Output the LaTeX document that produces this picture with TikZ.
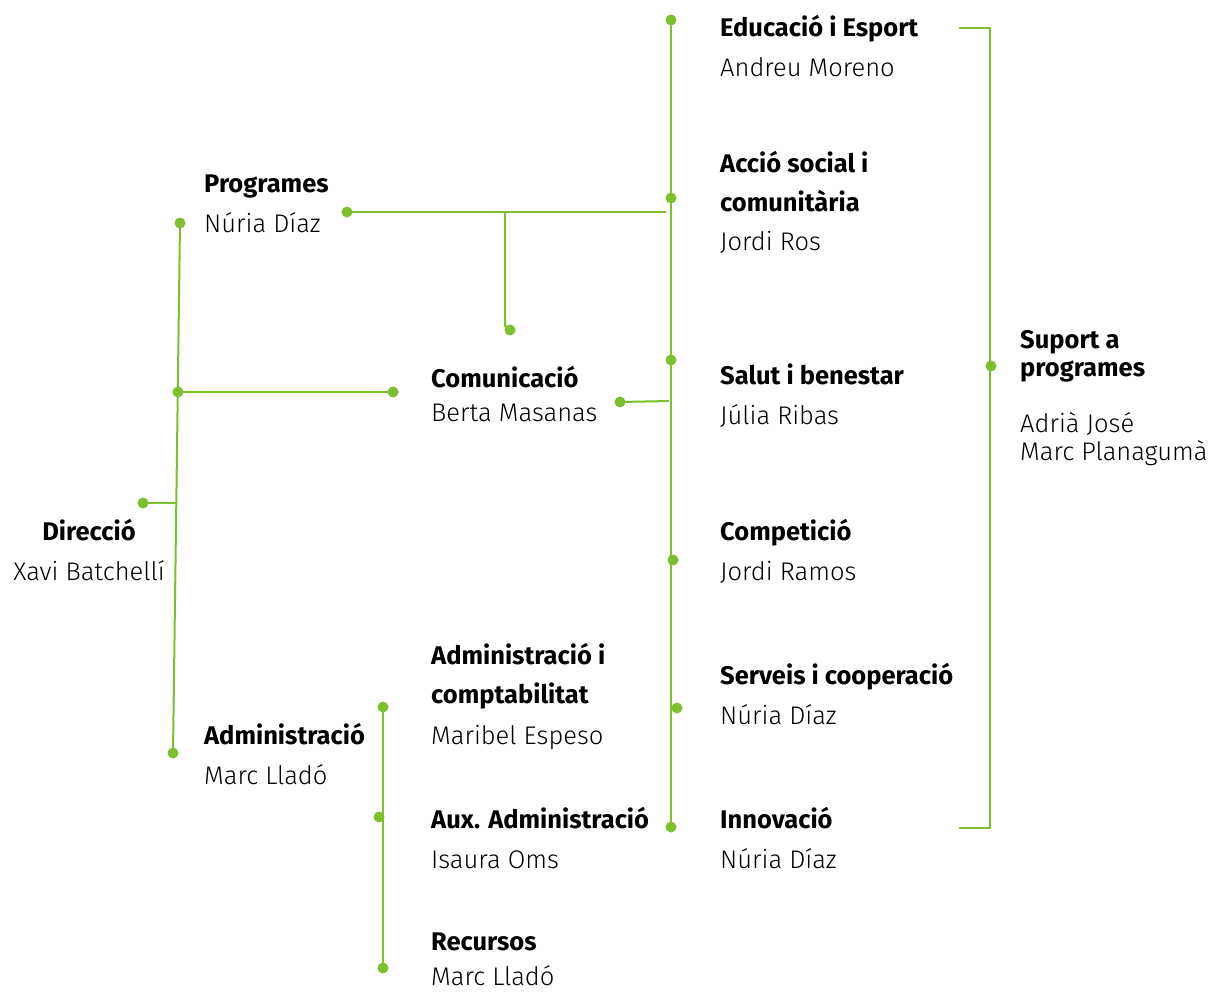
\documentclass[tikz,border=0pt]{standalone}
\usepackage{fontspec}
\setmainfont{Fira Sans}
\IfFontExistsTF{Fira Sans Light}
  {\newfontfamily\lightfont{Fira Sans Light}}
  {\newfontfamily\lightfont{Fira Sans}}
\definecolor{leaf}{RGB}{125,192,46}

\tikzset{
  dot/.style={circle,fill=leaf,inner sep=0pt,minimum size=11pt},
  link/.style={draw=leaf,line width=2pt},
  unit/.style={font=\fontsize{25.5}{30}\selectfont\bfseries,anchor=base west,inner sep=0pt},
  who/.style={font=\lightfont\fontsize{25.5}{30}\selectfont,anchor=base west,inner sep=0pt},
}

\begin{document}
\begin{tikzpicture}[x=1pt,y=-1pt]
	\useasboundingbox (0,0) rectangle (1218,991);

	% left spine
	\node[dot] (dProg) at (180,223) {};
	\node[dot] (dCom)  at (178,392) {};
	\node[dot] (dAdm)  at (173,753) {};
	\node[dot] (dDir)  at (143,503) {};
	\node[dot] (dComR) at (393,392) {};
	\coordinate (jDir) at (177,503);
	\draw[link] (dProg.center) -- (dAdm.center);
	\draw[link] (dCom.center) -- (dComR.center);
	\draw[link] (dDir.center) -- (jDir);

	% programes branch
	\node[dot] (dProgR) at (347,212) {};
	\coordinate (jProg) at (666,212);
	\coordinate (jMid) at (505,212);
	\node[dot] (dMid) at (510,330) {};
	\draw[link] (dProgR.center) -- (jProg);
	\draw[link] (jMid) -- (505,326) -- (dMid.center);
	\node[dot] (dComL) at (620,402) {};
	\coordinate (jCom) at (669,401);
	\draw[link] (dComL.center) -- (jCom);

	% right spine
	\node[dot] (dEdu) at (671,20) {};
	\node[dot] (dAcc) at (671,198) {};
	\node[dot] (dSal) at (671,360) {};
	\node[dot] (dCmp) at (673,560) {};
	\node[dot] (dSer) at (677,708) {};
	\node[dot] (dInn) at (671,827) {};
	\draw[link] (dEdu.center) -- (dInn.center);

	% bracket
	\coordinate (bTop) at (959,28);
	\coordinate (bBot) at (959,828);
	\node[dot] (dSup) at (991,366) {};
	\draw[link] (bTop) -- (990,28) -- (990,828) -- (bBot);

	% administracio branch
	\node[dot] (dAd1) at (383,707) {};
	\node[dot] (dAd2) at (379,817) {};
	\node[dot] (dAd3) at (383,968) {};
	\draw[link] (dAd1.center) -- (dAd3.center);

	% texts
	\node[unit,anchor=base] (tDir) at (89,540) {Direcció};
	\node[who,anchor=base] (nDir) at (89,580) {Xavi Batchellí};
	\node[unit] (tProg) at (204,192) {Programes};
	\node[who] (nProg) at (204,232) {Núria Díaz};
	\node[unit] (tAdm) at (204,744) {Administració};
	\node[who] (nAdm) at (204,784) {Marc Lladó};
	\node[unit] (tCom) at (431,387) {Comunicació};
	\node[who] (nCom) at (431,421) {Berta Masanas};
	\node[unit] (tAd1) at (431,664) {Administració i};
	\node[unit] (tAd1b) at (431,703) {comptabilitat};
	\node[who] (nAd1) at (431,744) {Maribel Espeso};
	\node[unit] (tAd2) at (431,828) {Aux. Administració};
	\node[who] (nAd2) at (431,868) {Isaura Oms};
	\node[unit] (tAd3) at (431,950) {Recursos};
	\node[who] (nAd3) at (431,985) {Marc Lladó};
	\node[unit] (tEdu) at (720,36) {Educació i Esport};
	\node[who] (nEdu) at (720,76) {Andreu Moreno};
	\node[unit] (tAcc) at (720,172) {Acció social i};
	\node[unit] (tAccb) at (720,211) {comunitària};
	\node[who] (nAcc) at (720,250) {Jordi Ros};
	\node[unit] (tSal) at (720,384) {Salut i benestar};
	\node[who] (nSal) at (720,424) {Júlia Ribas};
	\node[unit] (tCmp) at (720,540) {Competició};
	\node[who] (nCmp) at (720,580) {Jordi Ramos};
	\node[unit] (tSer) at (720,684) {Serveis i cooperació};
	\node[who] (nSer) at (720,724) {Núria Díaz};
	\node[unit] (tInn) at (720,828) {Innovació};
	\node[who] (nInn) at (720,868) {Núria Díaz};
	\node[unit] (tSup) at (1020,348) {Suport a};
	\node[unit] (tSupb) at (1020,376) {programes};
	\node[who] (nSup) at (1020,432) {Adrià José};
	\node[who] (nSupb) at (1020,460) {Marc Planagumà};
\end{tikzpicture}
\end{document}
